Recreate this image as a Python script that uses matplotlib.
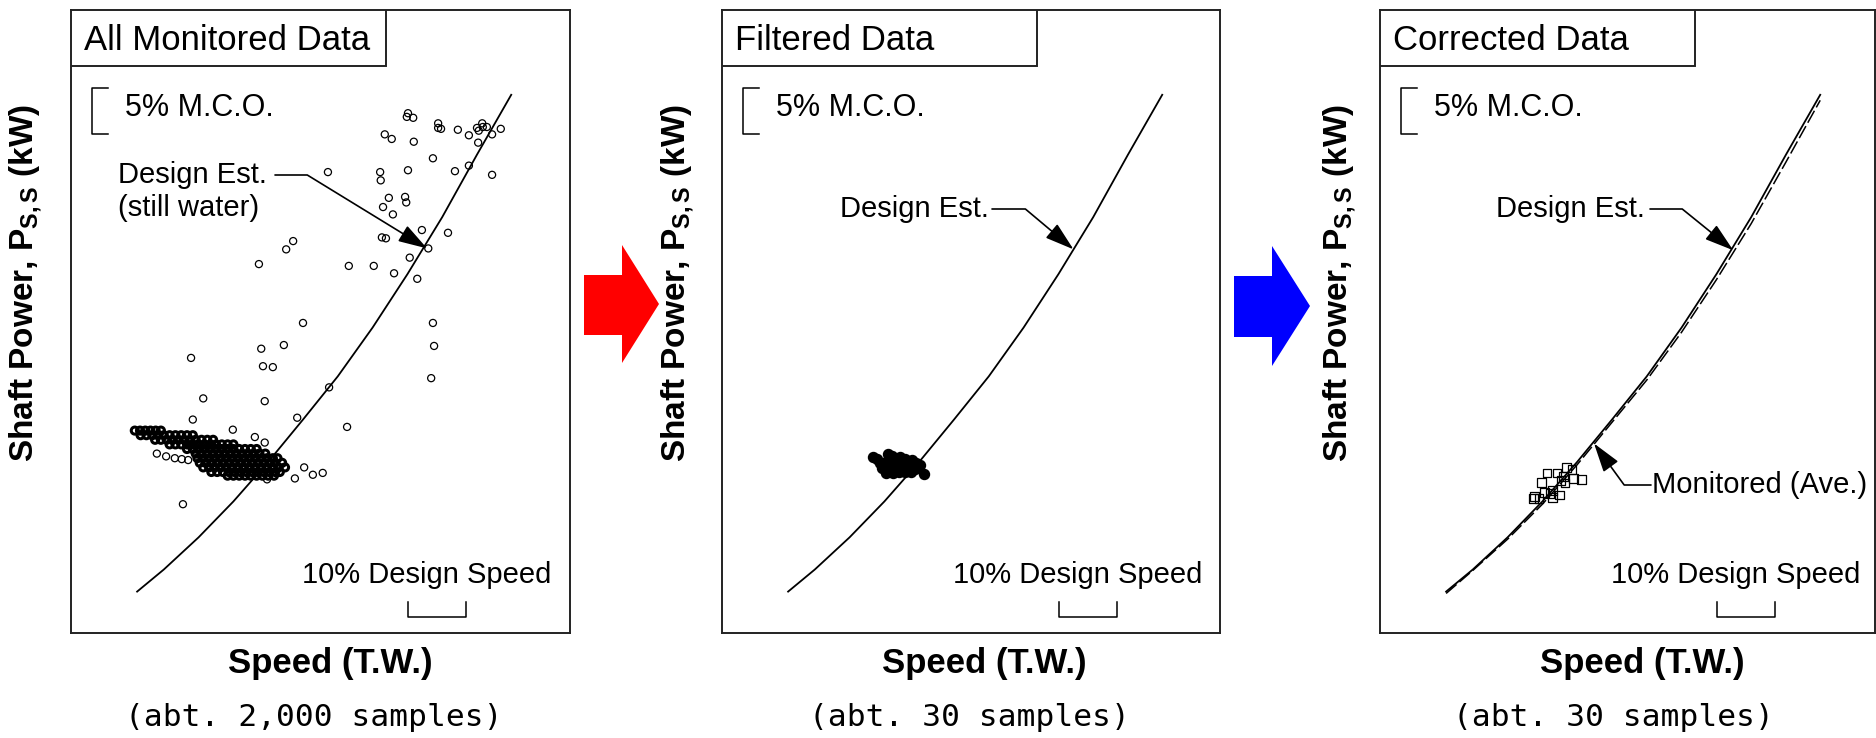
import matplotlib
matplotlib.use('Agg')
import matplotlib.pyplot as plt
from matplotlib.patches import Rectangle, Polygon

plt.rcParams['font.family'] = ['Liberation Sans', 'DejaVu Sans']
plt.rcParams['mathtext.fontset'] = 'custom'
plt.rcParams['mathtext.rm'] = 'Liberation Sans'
plt.rcParams['mathtext.bf'] = 'Liberation Sans:bold'
plt.rcParams['mathtext.it'] = 'Liberation Sans:italic'

# ---------------- data (x: % design speed, y: % M.C.O.) ----------------
panel_titles = ["All Monitored Data", "Filtered Data", "Corrected Data"]
sample_notes = ["(abt. 2,000 samples)", "(abt. 30 samples)", "(abt. 30 samples)"]

design_x = [51.4, 56.0, 62.0, 68.0, 74.0, 80.0, 86.0, 92.0, 98.0, 104.0, 110.0, 115.9]
design_y = [24.5, 26.9, 30.4, 34.3, 38.6, 43.2, 47.9, 53.2, 59.0, 65.2, 72.0, 78.5]

monitored_x = [51.4, 56.0, 62.0, 68.0, 74.0, 80.0, 86.0, 92.0, 98.0, 104.0, 110.0, 115.9]
monitored_y = [24.3, 26.8, 30.2, 34.0, 38.3, 42.9, 47.5, 52.7, 58.4, 64.5, 71.2, 77.9]

# dense core of the monitored cloud (rows of y, x positions)
cloud_rows_y = [42.0, 41.5, 41.0, 40.5, 40.0, 39.5, 39.0, 38.5, 38.0, 37.5, 37.1]
cloud_rows_x = [
    [51.0, 51.9, 52.8, 53.7, 54.6, 55.5],
    [52.0, 53.0, 54.0, 55.0, 56.0, 57.0, 58.0, 59.0, 60.0, 61.0],
    [54.5, 55.5, 56.5, 57.5, 58.5, 59.5, 60.5, 61.5, 62.5, 63.5, 64.5],
    [57.0, 58.0, 59.0, 60.0, 61.0, 62.0, 63.0, 64.0, 65.0, 66.0, 67.0, 68.0],
    [60.0, 61.0, 62.0, 63.0, 64.0, 65.0, 66.0, 67.0, 68.0, 69.0, 70.0, 71.0, 72.0],
    [61.5, 62.5, 63.5, 64.5, 65.5, 66.5, 67.5, 68.5, 69.5, 70.5, 71.5, 72.5, 73.5],
    [61.8, 62.8, 63.8, 64.8, 65.8, 66.8, 67.8, 68.8, 69.8, 70.8, 71.8, 72.8, 73.8, 74.8, 75.6],
    [62.2, 63.2, 64.2, 65.2, 66.2, 67.2, 68.2, 69.2, 70.2, 71.2, 72.2, 73.2, 74.2, 75.2, 76.4],
    [62.8, 63.8, 64.8, 65.8, 66.8, 67.8, 68.8, 69.8, 70.8, 71.8, 72.8, 73.8, 74.8, 75.8, 76.9],
    [64.2, 65.2, 66.2, 67.2, 68.2, 69.2, 70.2, 71.2, 72.2, 73.2, 74.2, 75.2, 76.0],
    [67.0, 68.0, 69.0, 70.0, 71.0, 72.0, 73.0, 74.0, 75.0],
]

# scattered monitored samples
outlier_x = [98.1, 97.9, 99.0, 103.3, 103.3, 103.8, 106.7, 108.6, 110.0, 110.3, 110.9, 111.0,
             111.7, 114.1, 112.6, 110.2, 94.1, 95.3, 99.1, 102.4, 106.2, 108.6, 112.6, 84.3,
             93.3, 93.4, 98.1, 94.8, 97.6, 97.8, 93.8, 95.5, 100.5, 105.0, 93.6, 94.3, 101.6,
             78.3, 77.1, 72.4, 87.9, 92.2, 95.7, 98.4, 99.7,
             60.7, 72.8, 76.7, 80.0, 73.1, 74.8, 102.4, 102.6, 102.1,
             62.8, 73.4, 84.5, 61.0, 67.9, 79.0, 71.7, 73.4, 87.6, 54.8, 56.4, 57.9, 59.1,
             60.2, 80.2, 81.7, 83.4, 78.6, 73.8, 59.3]
outlier_y = [76.5, 76.1, 76.0, 75.4, 74.9, 74.8, 74.7, 74.1, 74.9, 74.6, 75.4, 75.0,
             75.0, 74.8, 74.2, 73.3, 74.2, 73.7, 73.4, 71.6, 70.2, 70.8, 69.8, 70.1,
             70.1, 69.2, 70.3, 67.3, 67.4, 66.8, 66.3, 65.5, 63.8, 63.5, 63.0, 62.9, 61.8,
             62.6, 61.7, 60.1, 59.9, 59.9, 59.1, 60.8, 58.5,
             49.9, 50.9, 51.3, 53.7, 49.0, 48.9, 53.7, 51.2, 47.7,
             45.5, 45.2, 46.7, 43.2, 42.1, 43.4, 41.3, 40.7, 42.4, 39.5, 39.2, 39.0, 38.9,
             38.8, 38.0, 37.2, 37.4, 36.8, 36.7, 34.0]

# filtered samples
filtered_x = [66.0, 66.8, 68.6, 69.3, 70.7, 71.6, 72.8, 73.5, 74.1, 74.8,
              67.3, 68.2, 69.0, 70.0, 71.0, 72.0, 73.0,
              67.6, 68.5, 69.5, 70.4, 71.3, 72.3, 73.2,
              68.3, 69.4, 70.5, 71.6, 72.6, 69.8]
filtered_y = [39.1, 38.9, 39.5, 39.2, 39.1, 38.9, 38.8, 38.5, 38.3, 37.3,
              38.5, 38.6, 38.7, 38.6, 38.5, 38.4, 38.1,
              37.9, 37.8, 37.9, 37.8, 37.9, 37.7, 37.8,
              37.4, 37.4, 37.5, 37.5, 37.5, 38.2]

# corrected samples
corrected_x = [66.7, 66.4, 67.9, 68.8, 70.5, 71.6, 72.2, 73.1, 73.4, 74.8, 71.2, 69.8,
               69.3, 69.7, 70.9, 68.3, 71.9, 67.4]
corrected_y = [34.8, 34.6, 36.4, 37.4, 37.4, 37.0, 38.0, 37.8, 36.8, 36.7, 36.6, 35.5,
               35.2, 34.7, 35.0, 35.3, 36.3, 34.6]

# ---------------- layout ----------------
W, H = 1876, 738
fig = plt.figure(figsize=(W / 100, H / 100), dpi=100)
PX_X = 5.8   # px per % speed
PX_Y = 9.2   # px per % MCO
PH = 623
panels = [(71, 10, 499), (722, 10, 498), (1380, 10, 495)]
axes = []
for (left, top, width) in panels:
    ax = fig.add_axes([left / W, 1 - (top + PH) / H, width / W, PH / H])
    ax.set_xlim(40, 40 + width / PX_X)
    ax.set_ylim(20, 20 + PH / PX_Y)
    ax.set_xticks([])
    ax.set_yticks([])
    for s in ax.spines.values():
        s.set_linewidth(1.4)
        s.set_color('#222222')
    axes.append(ax)

def fa(ax, rx, ry):
    w = ax.get_position().width * W
    return rx / w, 1 - ry / PH

for i, ax in enumerate(axes):
    w = ax.get_position().width * W
    # title box
    ax.add_patch(Rectangle((0, 1 - 56 / PH), 315 / w, 56 / PH, transform=ax.transAxes,
                           facecolor='white', edgecolor='#222222', lw=1.4, zorder=5))
    ax.text(*fa(ax, 13, 30), panel_titles[i], transform=ax.transAxes, fontsize=25,
            va='center', ha='left', zorder=6)
    # 5% MCO bracket
    bx0, bx1 = 40 + 21 / PX_X, 40 + 37 / PX_X
    by0 = 20 + (PH - 124) / PX_Y
    by1 = by0 + 5.0
    ax.plot([bx1, bx0, bx0, bx1], [by1, by1, by0, by0], color='black', lw=1.1)
    ax.text(*fa(ax, 54, 98), "5% M.C.O.", transform=ax.transAxes, fontsize=22,
            va='center', ha='left')
    # 10% speed bracket
    sx0 = 40 + 337 / PX_X
    sx1 = sx0 + 10.0
    sy0 = 20 + 16 / PX_Y
    sy1 = 20 + 31 / PX_Y
    ax.plot([sx0, sx0, sx1, sx1], [sy1, sy0, sy0, sy1], color='black', lw=1.1)
    ax.text(*fa(ax, 231, 565), "10% Design Speed", transform=ax.transAxes, fontsize=21,
            va='center', ha='left')
    # design curve
    ax.plot(design_x, design_y, color='black', lw=1.3, zorder=3)

arrow_kw = dict(arrowstyle='-|>,head_length=0.9,head_width=0.28', color='black', lw=1.2,
                mutation_scale=20, shrinkA=0, shrinkB=0)

# panel 1
ax = axes[0]
cx = [x for row in cloud_rows_x for x in row]
cy = [y for y, row in zip(cloud_rows_y, cloud_rows_x) for _ in row]
ax.scatter(cx, cy, s=26, facecolors='none', edgecolors='black', linewidths=2.2, zorder=4)
ax.scatter(outlier_x, outlier_y, s=26, facecolors='none', edgecolors='black', linewidths=0.9, zorder=4)
ax.text(*fa(ax, 47, 165), "Design Est.", transform=ax.transAxes, fontsize=21, va='center', ha='left')
ax.text(*fa(ax, 47, 198), "(still water)", transform=ax.transAxes, fontsize=21, va='center', ha='left')
ax.annotate('', xy=(101.4, 61.8), xytext=fa(ax, 204, 165), textcoords='axes fraction',
            arrowprops=dict(connectionstyle='angle,angleA=0,angleB=-31.5,rad=0', **arrow_kw))

# panel 2
ax = axes[1]
ax.scatter(filtered_x, filtered_y, s=52, color='black', zorder=4)
ax.text(*fa(ax, 267, 199), "Design Est.", transform=ax.transAxes, fontsize=21, va='center', ha='right')
ax.annotate('', xy=(100.6, 61.7), xytext=fa(ax, 270, 199), textcoords='axes fraction',
            arrowprops=dict(connectionstyle='angle,angleA=0,angleB=-40,rad=0', **arrow_kw))

# panel 3
ax = axes[2]
ax.plot(monitored_x, monitored_y, color='black', lw=1.1, dashes=(9, 2.5), zorder=3)
ax.scatter(corrected_x, corrected_y, s=40, marker='s', facecolors='none', edgecolors='black',
           linewidths=0.9, zorder=4)
ax.text(*fa(ax, 265, 199), "Design Est.", transform=ax.transAxes, fontsize=21, va='center', ha='right')
ax.annotate('', xy=(100.9, 61.6), xytext=fa(ax, 270, 199), textcoords='axes fraction',
            arrowprops=dict(connectionstyle='angle,angleA=0,angleB=-39,rad=0', **arrow_kw))
ax.text(*fa(ax, 272, 475), "Monitored (Ave.)", transform=ax.transAxes, fontsize=21, va='center', ha='left')
ax.annotate('', xy=(76.9, 40.6), xytext=fa(ax, 271, 475), textcoords='axes fraction',
            arrowprops=dict(connectionstyle='angle,angleA=180,angleB=126,rad=0', **arrow_kw))

# axis labels
ylabel_x = [26, 678, 1340]
speed_cx = [330, 984, 1642]
note_cx = [314, 969, 1613]
for i, ax in enumerate(axes):
    fig.text(ylabel_x[i] / W, 1 - 283 / H, r'Shaft Power, $\mathbf{P_{S,S}}$ (kW)', rotation=90,
             fontsize=24, fontweight='bold', ha='center', va='center')
    fig.text(speed_cx[i] / W, 1 - 664 / H, "Speed (T.W.)", fontsize=25, fontweight='bold',
             ha='center', va='center')
    fig.text(note_cx[i] / W, 1 - 718 / H, sample_notes[i], fontsize=22.5,
             family=['DejaVu Sans Mono'], ha='center', va='center')

# big arrows between panels
def big_arrow(x0, xs, xt, ys0, ys1, yh0, yh1, color):
    ymid = (yh0 + yh1) / 2
    pts = [(x0, ys0), (xs, ys0), (xs, yh0), (xt, ymid), (xs, yh1), (xs, ys1), (x0, ys1)]
    fig.patches.append(Polygon([(px / W, 1 - py / H) for px, py in pts], closed=True,
                               transform=fig.transFigure, facecolor=color, edgecolor='none'))

big_arrow(584, 622, 659, 275, 335, 245, 363, '#ff0000')
big_arrow(1234, 1272, 1310, 276, 337, 246, 366, '#0000ff')

fig.savefig('out.png', dpi=100, facecolor='white')
